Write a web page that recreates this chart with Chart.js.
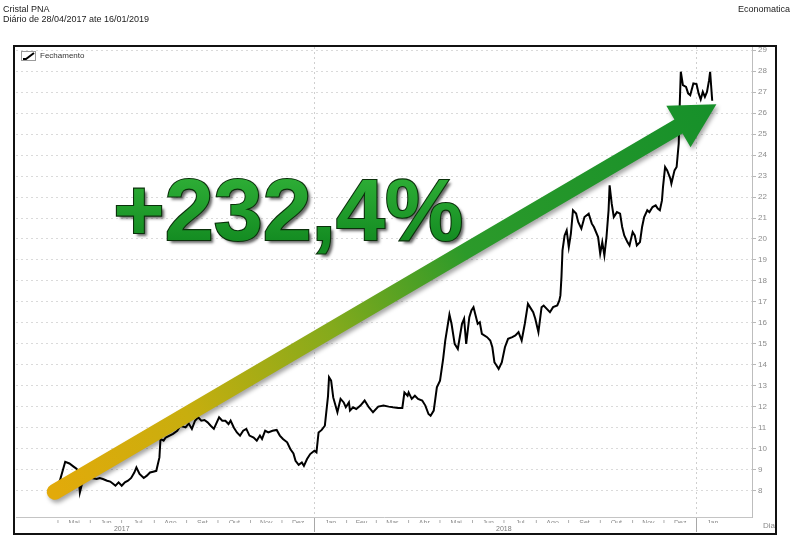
<!DOCTYPE html>
<html><head><meta charset="utf-8">
<script src="https://cdn.jsdelivr.net/npm/chart.js@4"></script>
<style>
html,body{margin:0;padding:0;background:#fff;width:800px;height:553px;overflow:hidden;font-family:"Liberation Sans",Arial,sans-serif;}
#wrap{position:relative;width:800px;height:553px;}
canvas{position:absolute;left:0;top:0;}
.t{position:absolute;font-size:9px;color:#222;white-space:nowrap;line-height:1;}
#frame{position:absolute;left:13px;top:45px;width:760px;height:486px;border:2px solid #111;pointer-events:none;}
</style></head>
<body><div id="wrap">
<canvas id="c" width="800" height="553"></canvas>
<div class="t" style="left:3px;top:5px">Cristal PNA</div>
<div class="t" style="left:3px;top:15px">Diário de 28/04/2017 ate 16/01/2019</div>
<div class="t" style="left:738px;top:5px">Economatica</div>
<div id="frame"></div>
<div class="t" style="left:763px;top:522px;color:#8a8a8a;font-size:8px">Dia</div>
</div>
<script>
const seriesName = 'Fechamento';
const dates = [
"2017-04-28","2017-05-03","2017-05-08","2017-05-12","2017-05-16","2017-05-19","2017-05-21","2017-05-22","2017-05-24","2017-05-29",
"2017-06-02","2017-06-07","2017-06-10","2017-06-13","2017-06-17","2017-06-20","2017-06-23","2017-06-25","2017-06-28","2017-07-01",
"2017-07-04","2017-07-07","2017-07-10","2017-07-13","2017-07-15","2017-07-18","2017-07-22","2017-07-25","2017-07-28","2017-07-31",
"2017-08-03","2017-08-06","2017-08-07","2017-08-10","2017-08-12","2017-08-19","2017-08-23","2017-08-26","2017-08-31","2017-09-03",
"2017-09-06","2017-09-09","2017-09-12","2017-09-15","2017-09-18","2017-09-21","2017-09-24","2017-09-27","2017-10-02","2017-10-05",
"2017-10-08","2017-10-11","2017-10-13","2017-10-16","2017-10-19","2017-10-22","2017-10-25","2017-10-28","2017-10-31","2017-11-04",
"2017-11-07","2017-11-10","2017-11-12","2017-11-15","2017-11-18","2017-11-22","2017-11-26","2017-11-29","2017-12-02","2017-12-06",
"2017-12-09","2017-12-12","2017-12-14","2017-12-17","2017-12-20","2017-12-22","2017-12-25","2017-12-28","2018-01-01","2018-01-03",
"2018-01-05","2018-01-08","2018-01-11","2018-01-14","2018-01-15","2018-01-17","2018-01-19","2018-01-23","2018-01-26","2018-01-29",
"2018-01-31","2018-02-03","2018-02-04","2018-02-07","2018-02-10","2018-02-14","2018-02-18","2018-02-22","2018-02-26","2018-03-03",
"2018-03-08","2018-03-13","2018-03-17","2018-03-22","2018-03-26","2018-03-28","2018-03-31","2018-04-01","2018-04-04","2018-04-07",
"2018-04-10","2018-04-14","2018-04-17","2018-04-20","2018-04-22","2018-04-25","2018-04-28","2018-05-01","2018-05-04","2018-05-06",
"2018-05-10","2018-05-12","2018-05-15","2018-05-18","2018-05-22","2018-05-24","2018-05-26","2018-05-29","2018-05-31","2018-06-02",
"2018-06-04","2018-06-06","2018-06-08","2018-06-10","2018-06-15","2018-06-18","2018-06-20","2018-06-22","2018-06-24","2018-06-26",
"2018-06-29","2018-07-02","2018-07-05","2018-07-09","2018-07-12","2018-07-15","2018-07-18","2018-07-21","2018-07-24","2018-07-27",
"2018-07-29","2018-07-31","2018-08-03","2018-08-06","2018-08-08","2018-08-11","2018-08-14","2018-08-17","2018-08-21","2018-08-23",
"2018-08-24","2018-08-25","2018-08-26","2018-08-28","2018-08-30","2018-09-01","2018-09-03","2018-09-05","2018-09-08","2018-09-10",
"2018-09-13","2018-09-16","2018-09-20","2018-09-23","2018-09-25","2018-09-29","2018-10-01","2018-10-03","2018-10-05","2018-10-07",
"2018-10-09","2018-10-10","2018-10-12","2018-10-14","2018-10-17","2018-10-20","2018-10-22","2018-10-24","2018-10-27","2018-10-29",
"2018-11-01","2018-11-03","2018-11-05","2018-11-08","2018-11-10","2018-11-12","2018-11-15","2018-11-17","2018-11-20","2018-11-23",
"2018-11-25","2018-11-27","2018-11-29","2018-11-30","2018-12-02","2018-12-04","2018-12-07","2018-12-08","2018-12-11","2018-12-13",
"2018-12-15","2018-12-16","2018-12-17","2018-12-19","2018-12-22","2018-12-24","2018-12-26","2018-12-29","2019-01-01","2019-01-03",
"2019-01-05","2019-01-07","2019-01-09","2019-01-11","2019-01-13","2019-01-14","2019-01-16"
];
const closes = [
8.00,8.50,9.38,9.30,9.15,9.04,8.57,7.92,8.32,8.61,
8.61,8.56,8.61,8.56,8.48,8.44,8.32,8.24,8.40,8.24,
8.40,8.48,8.61,8.87,9.11,8.80,8.61,8.72,8.87,8.91,
8.95,9.59,10.47,10.39,10.54,10.71,10.86,11.10,11.02,11.21,
10.95,11.34,11.50,11.34,11.37,11.26,11.10,10.95,11.50,11.34,
11.34,11.18,11.34,11.02,10.78,10.63,10.86,10.95,10.63,10.54,
10.39,10.63,10.47,10.86,10.78,10.86,10.90,10.63,10.47,10.31,
9.99,9.78,9.43,9.24,9.35,9.19,9.51,9.75,9.91,9.83,
10.78,10.90,11.10,12.50,13.41,13.25,12.45,11.74,12.38,12.21,
11.98,12.21,11.82,11.98,11.90,12.06,12.30,11.98,11.74,12.01,
12.06,12.01,11.98,11.95,11.95,12.69,12.53,12.69,12.38,12.53,
12.38,12.30,12.06,11.66,11.58,11.82,12.93,13.25,14.29,15.16,
16.40,15.96,15.00,14.76,15.96,16.20,15.00,16.27,16.59,16.75,
16.35,15.96,16.03,15.48,15.32,15.16,14.84,14.12,13.97,13.81,
14.12,14.84,15.24,15.32,15.40,15.56,15.16,15.96,16.91,16.67,
16.51,16.20,15.56,16.75,16.83,16.67,16.51,16.75,16.83,17.07,
17.31,18.18,19.46,20.17,20.41,19.61,20.25,21.37,21.21,20.81,
20.49,21.05,21.21,20.73,20.57,20.09,19.30,19.85,19.22,20.09,
21.37,22.56,21.68,21.05,21.28,21.21,20.57,20.17,19.85,19.69,
20.33,20.17,19.69,19.85,20.57,21.05,21.37,21.28,21.52,21.60,
21.45,21.37,21.84,22.48,23.43,23.27,22.88,22.64,23.27,23.43,
24.55,26.46,27.97,27.33,27.25,26.94,26.85,27.41,27.38,26.94,
26.65,27.01,26.77,27.01,27.57,27.97,26.59
];
const yTickValues = [8,9,10,11,12,13,14,15,16,17,18,19,20,21,22,23,24,25,26,27,28,29];
const firstMonth = '2017-05-01';
const monthLabels = ['Mai','Jun','Jul','Ago','Set','Out','Nov','Dez','Jan','Fev','Mar','Abr','Mai','Jun','Jul','Ago','Set','Out','Nov','Dez','Jan'];
const yearLabels = ['2017','2018'];
const yearLabelDates = ['2017-07-01','2018-07-01'];
const axisStart = '2017-03-22';
const axisEnd = '2019-02-23';
const yMin = 6.75, yMax = 29.15;
const gainText = '+232,4%';
const arrowFrom = ['2017-04-28', 7.95];
const arrowTo = ['2019-01-20', 26.42];
const gainTextAt = ['2017-06-23', 19.93];

const FONT = '"Liberation Sans", Arial, sans-serif';
const dayOf = s => Date.UTC(+s.slice(0,4), +s.slice(5,7)-1, +s.slice(8,10)) / 864e5;

// month ticks (boundaries + mid-month labels)
const xTicks = [];
{
  const y0 = +firstMonth.slice(0,4), m0 = +firstMonth.slice(5,7)-1;
  monthLabels.forEach((lab, i) => {
    const s = Date.UTC(y0, m0+i, 1)/864e5, n = Date.UTC(y0, m0+i+1, 1)/864e5;
    const isJan = new Date(s*864e5).getUTCMonth() === 0;
    xTicks.push({value: s, label: isJan ? '' : 'I', sep: isJan});
    xTicks.push({value: (s+n)/2, label: lab, sep: false});
  });
}
const yearTicks = yearLabelDates.map((d,i) => ({value: dayOf(d), label: yearLabels[i]}));

// legend icon
const icon = document.createElement('canvas');
icon.width = 15; icon.height = 10;
{
  const g = icon.getContext('2d');
  g.fillStyle = '#fff'; g.fillRect(0,0,15,10);
  g.strokeStyle = '#9a9a9a'; g.lineWidth = 1; g.strokeRect(0.5,0.5,14,9);
  g.strokeStyle = '#000'; g.lineWidth = 2;
  g.beginPath(); g.moveTo(2,8); g.lineTo(5,8); g.lineTo(13,2); g.stroke();
}

// place the legend inside the plot, top-left
const legendInPlot = {
  id: 'legendInPlot',
  afterLayout(chart) {
    const l = chart.legend, ca = chart.chartArea;
    if (!l) return;
    const w = l.width, h = l.height;
    l.left = ca.left; l.top = ca.top; l.right = ca.left + w; l.bottom = ca.top + h;
  }
};

const overlay = {
  id: 'overlay',
  afterDatasetsDraw(chart) {
    const {ctx, scales: {x, y}} = chart;
    const p0 = {x: x.getPixelForValue(dayOf(arrowFrom[0])), y: y.getPixelForValue(arrowFrom[1])};
    const p1 = {x: x.getPixelForValue(dayOf(arrowTo[0])), y: y.getPixelForValue(arrowTo[1])};
    const dx = p1.x - p0.x, dy = p1.y - p0.y, L = Math.hypot(dx, dy);
    const ux = dx/L, uy = dy/L, nx = -uy, ny = ux;
    const sh = 8, hl = 44, hh = 24;
    const bx = p1.x - ux*hl, by = p1.y - uy*hl;
    const th = Math.atan2(uy, ux);
    ctx.save();
    const grad = ctx.createLinearGradient(p0.x, p0.y, p1.x, p1.y);
    grad.addColorStop(0, '#e2aa0a');
    grad.addColorStop(0.2, '#c8ae0e');
    grad.addColorStop(0.42, '#84aa1c');
    grad.addColorStop(0.62, '#2c9a2a');
    grad.addColorStop(1, '#16902a');
    ctx.shadowColor = 'rgba(0,0,0,0.35)';
    ctx.shadowOffsetX = 2; ctx.shadowOffsetY = 3; ctx.shadowBlur = 4;
    ctx.fillStyle = grad;
    ctx.beginPath();
    ctx.moveTo(p0.x + nx*sh, p0.y + ny*sh);
    ctx.lineTo(bx + nx*sh, by + ny*sh);
    ctx.lineTo(bx + nx*hh, by + ny*hh);
    ctx.lineTo(p1.x, p1.y);
    ctx.lineTo(bx - nx*hh, by - ny*hh);
    ctx.lineTo(bx - nx*sh, by - ny*sh);
    ctx.lineTo(p0.x - nx*sh, p0.y - ny*sh);
    ctx.arc(p0.x, p0.y, sh, th + 1.5*Math.PI, th + 0.5*Math.PI, true);
    ctx.closePath();
    ctx.fill();
    ctx.restore();

    // gain label
    const tx = x.getPixelForValue(dayOf(gainTextAt[0])), ty = y.getPixelForValue(gainTextAt[1]);
    ctx.save();
    ctx.font = 'bold 88px ' + FONT;
    ctx.textAlign = 'left'; ctx.textBaseline = 'alphabetic';
    const tg = ctx.createLinearGradient(0, ty - 64, 0, ty);
    tg.addColorStop(0, '#2eae36'); tg.addColorStop(1, '#148c22');
    ctx.shadowColor = 'rgba(0,0,0,0.6)';
    ctx.shadowOffsetX = 3; ctx.shadowOffsetY = 3; ctx.shadowBlur = 3;
    ctx.fillStyle = tg;
    ctx.fillText(gainText, tx, ty);
    ctx.shadowColor = 'transparent';
    ctx.lineWidth = 2.2; ctx.strokeStyle = '#0b300b';
    ctx.strokeText(gainText, tx, ty);
    ctx.fillStyle = tg;
    ctx.fillText(gainText, tx, ty);
    ctx.restore();
  }
};

new Chart(document.getElementById('c'), {
  type: 'line',
  data: {
    datasets: [{
      label: seriesName,
      data: dates.map((d, i) => ({x: dayOf(d), y: closes[i]})),
      borderColor: '#000',
      borderWidth: 2,
      pointRadius: 0,
      tension: 0,
      fill: false
    }]
  },
  options: {
    responsive: false,
    animation: false,
    devicePixelRatio: 1,
    layout: {padding: {left: 16, top: 47, right: 23, bottom: 16}},
    plugins: {
      tooltip: {enabled: false},
      legend: {
        position: 'chartArea',
        align: 'start',
        labels: {
          usePointStyle: true,
          pointStyle: icon,
          pointStyleWidth: 15,
          boxWidth: 15,
          boxHeight: 10,
          padding: 5,
          color: '#333',
          font: {size: 8, family: FONT}
        }
      }
    },
    scales: {
      x: {
        type: 'linear',
        position: 'bottom',
        bounds: 'data',
        min: dayOf(axisStart),
        max: dayOf(axisEnd),
        afterBuildTicks: a => { a.ticks = xTicks.map(t => ({value: t.value})); },
        afterFit: a => { a.height = 6; },
        ticks: {
          autoSkip: false, maxRotation: 0, minRotation: 0,
          padding: -13.5,
          callback: (v, i) => xTicks[i] ? xTicks[i].label : '',
          color: '#8c8c8c',
          font: {size: 7, family: FONT}
        },
        grid: {
          color: c => (xTicks[c.index] && xTicks[c.index].sep) ? '#cfcfcf' : 'rgba(0,0,0,0)',
          tickColor: c => (xTicks[c.index] && xTicks[c.index].sep) ? '#a8a8a8' : 'rgba(0,0,0,0)',
          tickLength: 15,
          lineWidth: 1
        },
        border: {display: true, color: '#c4c4c4', width: 1, dash: [2, 3]}
      },
      x2: {
        type: 'linear',
        position: 'bottom',
        bounds: 'data',
        min: dayOf(axisStart),
        max: dayOf(axisEnd),
        afterBuildTicks: a => { a.ticks = yearTicks.map(t => ({value: t.value})); },
        afterFit: a => { a.height = 14; },
        ticks: {
          autoSkip: false, maxRotation: 0, minRotation: 0, padding: 2,
          callback: (v, i) => yearTicks[i] ? yearTicks[i].label : '',
          color: '#7a7a7a',
          font: {size: 7, family: FONT}
        },
        grid: {display: false, drawTicks: false},
        border: {display: false}
      },
      y: {
        type: 'linear',
        position: 'right',
        bounds: 'data',
        min: yMin,
        max: yMax,
        afterBuildTicks: a => { a.ticks = yTickValues.map(v => ({value: v})); },
        afterFit: a => { a.width = 25; },
        ticks: {
          padding: 2,
          color: '#8c8c8c',
          font: {size: 8, family: FONT},
          callback: v => String(v)
        },
        grid: {color: '#dadada', tickColor: '#b8b8b8', tickLength: 4, lineWidth: 1},
        border: {display: true, color: '#bdbdbd', width: 1, dash: [2, 3]}
      }
    }
  },
  plugins: [legendInPlot, overlay]
});
</script>
</body></html>
